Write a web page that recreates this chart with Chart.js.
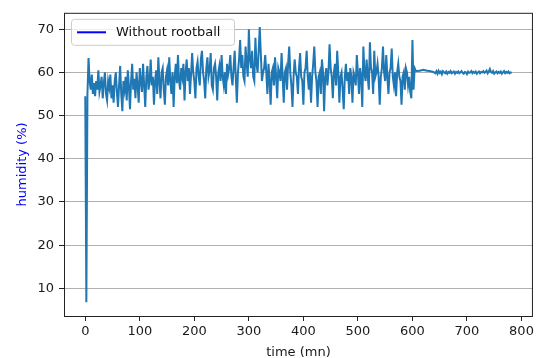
<!DOCTYPE html>
<html>
<head>
<meta charset="utf-8">
<script src="https://cdn.jsdelivr.net/npm/chart.js@4"></script>
<style>
  html, body { margin: 0; padding: 0; background: #fff; }
</style>
</head>
<body>
<canvas id="humidityChart" width="537" height="358"></canvas>
<script>
// humidity readings, one every 2 mn
const humidity = [
  54.5, 6.8, 55, 63.3, 58, 56, 59.5, 55, 57.5, 54.5, 58, 56, 60.5, 55.5, 57,
  59, 54, 57.5, 60, 55, 53.5, 58, 56.5, 59.5, 54, 57, 53, 58, 60, 55.5,
  52, 57, 61.5, 55, 51, 58, 56, 59, 53.5, 60.5, 57, 51.5, 58, 62, 56,
  58.5, 54, 60, 57, 53, 61, 58, 55.5, 62, 57, 52, 59, 61.5, 56, 58,
  63, 57, 59, 52.5, 58, 60.5, 55, 63.5, 58, 54, 60, 61, 56, 52.5, 59,
  60.5, 57, 63.5, 58, 55, 60, 52, 59, 62, 57.5, 64, 58, 56, 61, 59,
  62, 53.5, 60, 63, 58, 61, 55, 59.5, 64.5, 60, 58, 54, 61, 62.5, 59,
  57, 63, 65, 60, 58, 54, 61, 63.5, 59, 60.5, 64.5, 57, 56, 61, 62,
  59, 53.5, 60, 61.5, 58, 64, 59, 57, 60, 55, 62, 59.5, 61, 64, 59,
  57, 61, 65, 59, 53, 60, 63, 67.5, 61, 64, 59, 58, 66, 62, 59,
  70, 63, 61, 65, 59, 58, 68, 62, 60, 65, 70.5, 64, 58, 60, 61,
  64, 60, 55, 62, 58, 52.5, 60, 61, 57, 63.5, 59, 54, 61, 60, 58,
  64.5, 59, 53, 60, 61, 56, 62, 66, 60, 57, 52, 59, 63, 60, 59,
  55, 61, 64.5, 59, 58, 52.5, 60, 61, 65, 59, 56, 60, 53, 59, 62,
  66, 60, 58, 52, 59, 60, 55, 63, 60, 51, 59, 61, 57, 60, 66.5,
  61, 59, 54, 60, 62, 57, 65, 60, 53, 59, 60, 56, 51.5, 59, 62,
  58, 60, 55, 61, 59, 53, 60, 59, 57, 64, 60, 55, 61, 59, 52,
  66, 60, 58, 63, 59, 56, 67, 61, 60, 55, 65, 59, 60, 62, 59,
  52.5, 59, 61, 66, 60, 58, 64, 59, 55, 60, 61, 65.5, 59, 57, 60,
  54.5, 60, 62, 59, 58, 52.5, 59, 60, 56, 61, 60, 57, 59, 55.5, 54,
  67.5, 56, 61, 60.4, 60.3,
  60.3, 60.4, 60.4, 60.5, 60.5, 60.6, 60.5, 60.5, 60.4, 60.4, 60.3, 60.3, 60.2, 60.2, 60.1,
  60.0, 59.8, 60.3, 59.7, 60.4, 59.9, 60.2, 59.6, 60.3, 60.0, 59.8, 60.2, 59.7, 60.1, 59.9,
  60.3, 59.8, 60.0, 60.2, 59.7, 60.1, 59.9, 60.2, 59.8, 60.0, 60.3, 59.9, 59.7, 60.1, 60.0,
  59.6, 60.2, 59.9, 60.0, 60.3, 59.8, 60.1, 59.9, 60.2, 59.7, 60.0, 60.2, 59.8, 60.1, 60.0,
  60.3, 59.9, 60.1, 60.4, 59.8, 60.2, 60.8, 60.1, 59.9, 60.3, 59.7, 60.0, 60.2, 59.8, 60.1,
  59.9, 60.2, 59.7, 60.0, 60.3, 59.8, 60.1, 59.9, 60.2, 59.8, 60.0, 59.9
];
const sampleStep = 2; // mn between readings
const time = humidity.map((_, i) => i * sampleStep);

const xTicks = [0, 100, 200, 300, 400, 500, 600, 700, 800];
const yTicks = [10, 20, 30, 40, 50, 60, 70];
const seriesLabel = 'Without rootball';

const points = time.map((t, i) => ({ x: t, y: humidity[i] }));

const FONT = 'DejaVu Sans';

// black box round the plot + legend inside top-left, like matplotlib
const framePlugin = {
  id: 'frame',
  afterDraw(chart) {
    const { ctx, chartArea: a } = chart;
    ctx.save();
    ctx.strokeStyle = '#222';
    ctx.lineWidth = 1;
    ctx.strokeRect(a.left + 0.5, a.top + 0.5, a.right - a.left - 1, a.bottom - a.top);

    // legend
    const lx = a.left + 7, ly = a.top + 6, lw = 163, lh = 26;
    ctx.fillStyle = 'rgba(255,255,255,0.8)';
    ctx.strokeStyle = '#cccccc';
    ctx.beginPath();
    ctx.roundRect(lx + 0.5, ly + 0.5, lw, lh, 3);
    ctx.fill();
    ctx.stroke();
    ctx.strokeStyle = '#0000ff';
    ctx.lineWidth = 2;
    ctx.beginPath();
    ctx.moveTo(lx + 6, ly + 13.5);
    ctx.lineTo(lx + 35, ly + 13.5);
    ctx.stroke();
    ctx.fillStyle = '#111';
    ctx.font = '13px "' + FONT + '"';
    ctx.textBaseline = 'middle';
    ctx.fillText(seriesLabel, lx + 45, ly + 14);
    ctx.restore();
  }
};

new Chart(document.getElementById('humidityChart').getContext('2d'), {
  type: 'line',
  data: {
    datasets: [{
      label: seriesLabel,
      data: points,
      borderColor: '#1f77b4',
      borderWidth: 2,
      pointRadius: 0,
      tension: 0,
      fill: false
    }]
  },
  options: {
    responsive: false,
    animation: false,
    layout: { padding: { left: 0, top: 11, right: 4, bottom: 0 } },
    plugins: {
      legend: { display: false },
      tooltip: { enabled: false }
    },
    scales: {
      x: {
        type: 'linear',
        min: -39,
        max: 821,
        afterBuildTicks: s => { s.ticks = xTicks.map(v => ({ value: v })); },
        afterFit: s => { s.height = 42; },
        grid: { drawOnChartArea: false, drawTicks: true, tickLength: 5, tickColor: '#222' },
        border: { display: false },
        ticks: { color: '#1a1a1a', font: { family: FONT, size: 13 }, padding: 3, maxRotation: 0 },
        title: { display: true, text: 'time (mn)', color: '#1a1a1a', font: { family: FONT, size: 13 }, padding: { top: 0, bottom: -2 } }
      },
      y: {
        min: 3.6,
        max: 73.8,
        afterBuildTicks: s => { s.ticks = yTicks.map(v => ({ value: v })); },
        afterFit: s => { s.width = 64; },
        grid: { color: '#b0b0b0', lineWidth: 1, drawTicks: true, tickLength: 5, tickColor: '#222' },
        border: { display: false },
        ticks: { color: '#1a1a1a', font: { family: FONT, size: 13 }, padding: 5 },
        title: { display: true, text: 'humidity (%)', color: '#0000ff', font: { family: FONT, size: 13 }, padding: { top: 15, bottom: 0 } }
      }
    }
  },
  plugins: [framePlugin]
});
</script>
</body>
</html>
